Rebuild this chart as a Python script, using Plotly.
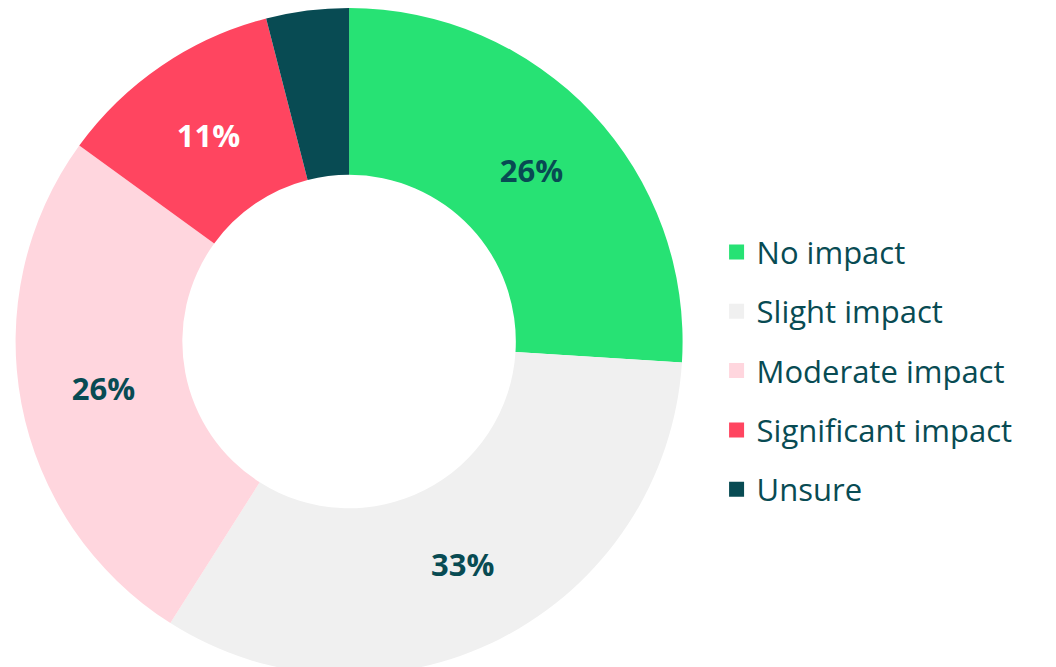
import plotly.graph_objects as go

# 응답 데이터
labels = ["No impact", "Slight impact", "Moderate impact", "Significant impact", "Unsure"]
values = [26, 33, 26, 11, 4]
colors = ["#27E274", "#F0F0F0", "#FFD6DE", "#FF4560", "#084B53"]
text_colors = ["#084B53", "#084B53", "#084B53", "#FFFFFF", "#FFFFFF"]
show_text = [True, True, True, True, False]

fig = go.Figure()

fig.add_trace(
    go.Pie(
        labels=labels,
        values=values,
        hole=0.5,
        sort=False,
        direction="clockwise",
        rotation=0,
        marker=dict(colors=colors, line=dict(width=0)),
        texttemplate=["%{value}%" if s else "" for s in show_text],
        textposition="inside",
        insidetextorientation="horizontal",
        textfont=dict(family="Open Sans", size=31, color=text_colors, weight="bold"),
        domain=dict(x=[0.0, 0.646], y=[0.0, 1.0]),
        hoverinfo="label+percent",
        showlegend=False,
    )
)

# 범례 (항목 간격 조절을 위해 개별 trace로 구성)
for i, (label, color) in enumerate(zip(labels, colors)):
    fig.add_trace(
        go.Scatter(
            x=[None],
            y=[None],
            mode="markers",
            name=label,
            legendgroup=str(i),
            marker=dict(symbol="square", size=15, color=color),
            showlegend=True,
        )
    )

fig.update_layout(
    width=1056,
    height=667,
    margin=dict(l=0, r=0, t=0, b=0),
    paper_bgcolor="white",
    plot_bgcolor="white",
    xaxis=dict(visible=False),
    yaxis=dict(visible=False),
    legend=dict(
        x=0.671,
        y=0.456,
        xanchor="left",
        yanchor="middle",
        font=dict(family="Open Sans", size=31, color="#084B53"),
        tracegroupgap=16,
        bgcolor="rgba(0,0,0,0)",
    ),
)

fig.write_html("out.html")
